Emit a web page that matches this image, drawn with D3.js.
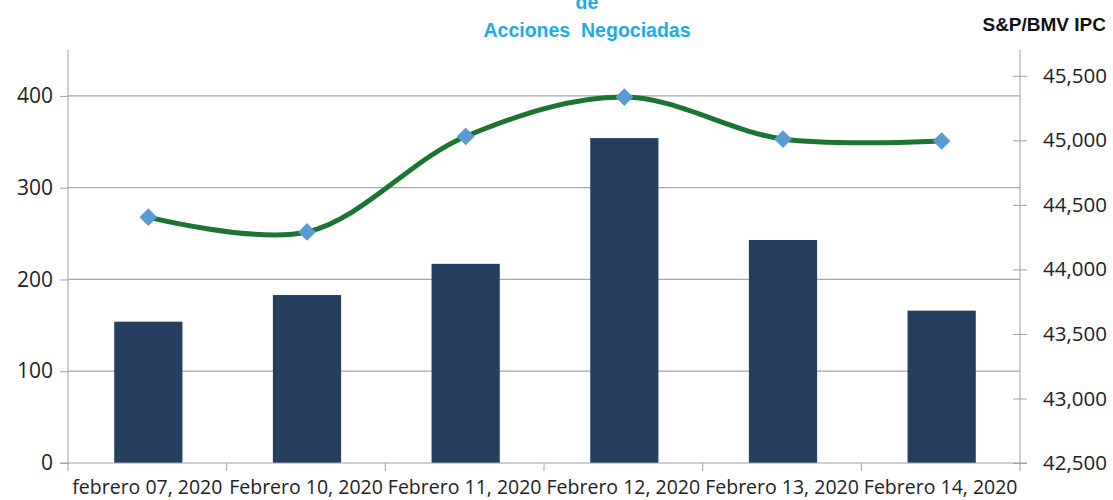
<!DOCTYPE html>
<html>
<head>
<meta charset="utf-8">
<script src="https://cdn.jsdelivr.net/npm/d3@7"></script>
<style>
  body { margin: 0; background: #fff; }
  svg text { font-family: "Open Sans", "DejaVu Sans", sans-serif; }
</style>
</head>
<body>
<div id="chart"></div>
<script>

var categories = ["febrero 07, 2020", "Febrero 10, 2020", "Febrero 11, 2020",
                  "Febrero 12, 2020", "Febrero 13, 2020", "Febrero 14, 2020"];
var acciones = [154, 183, 217, 354, 243, 166];
var ipc = [44405, 44290, 45030, 45335, 45010, 44995];
var leftTicks = [0, 100, 200, 300, 400];
var rightTicks = [42500, 43000, 43500, 44000, 44500, 45000, 45500];

var width = 1113, height = 500;
var margin = {left: 68, right: 93, top: 50, bottom: 37};

var svg = d3.select("#chart").append("svg")
    .attr("width", width)
    .attr("height", height);

var x = d3.scaleBand()
    .domain(categories)
    .range([margin.left, width - margin.right])
    .paddingInner(0.57)
    .paddingOuter(0.285);

var yL = d3.scaleLinear().domain([0, 450]).range([height - margin.bottom, margin.top]);
var yR = d3.scaleLinear().domain([42500, 45700]).range([height - margin.bottom, margin.top]);

// grid lines
svg.append("g").selectAll("line")
    .data(leftTicks.slice(1))
    .enter().append("line")
    .attr("x1", margin.left).attr("x2", width - margin.right)
    .attr("y1", function(d){ return yL(d); })
    .attr("y2", function(d){ return yL(d); })
    .attr("stroke", "#a6a6a6").attr("stroke-width", 1.2);

// bars
svg.append("g").selectAll("rect")
    .data(acciones)
    .enter().append("rect")
    .attr("x", function(d, i){ return x(categories[i]) + 1; })
    .attr("width", x.bandwidth())
    .attr("y", function(d){ return yL(d); })
    .attr("height", function(d){ return yL(0) - yL(d); })
    .attr("fill", "#243f60");

// left axis
var gl = svg.append("g").attr("transform", "translate(" + margin.left + ",0)")
    .call(d3.axisLeft(yL).tickValues(leftTicks).tickSize(8).tickPadding(7));
gl.select(".domain").attr("stroke", "#a0a0a0").attr("d", "M0," + margin.top + "V" + yL(0));
gl.selectAll(".tick line").attr("stroke", "#a0a0a0");
gl.selectAll("text").attr("font-size", "21px").attr("fill", "#222");

// right axis
var gr = svg.append("g").attr("transform", "translate(" + (width - margin.right) + ",0)")
    .call(d3.axisRight(yR).tickValues(rightTicks).tickSize(7).tickPadding(16)
        .tickFormat(d3.format(",")));
gr.select(".domain").attr("stroke", "#a0a0a0").attr("d", "M0," + margin.top + "V" + yR(42500));
gr.selectAll(".tick line").attr("stroke", "#a0a0a0").attr("x1", -7);
gr.selectAll("text").attr("font-size", "20.5px").attr("fill", "#222");

// bottom axis
var gb = svg.append("g").attr("transform", "translate(0," + yL(0) + ")")
    .call(d3.axisBottom(x).tickSize(0).tickPadding(17));
gb.select(".domain").attr("stroke", "#a0a0a0").attr("d", "M" + (margin.left - 8) + ",0H" + (width - margin.right + 7));
gb.selectAll("text").attr("font-size", "19.5px").attr("fill", "#222");
var bounds = categories.map(function(c){ return x(c) - x.step() * x.paddingInner() / 2; });
bounds.push(width - margin.right);
gb.selectAll(".bound").data(bounds).enter().append("line")
    .attr("x1", function(d){ return d; }).attr("x2", function(d){ return d; })
    .attr("y1", 0).attr("y2", 8)
    .attr("stroke", "#a0a0a0");

// ipc line
var cx = function(i){ return x(categories[i]) + x.bandwidth() / 2 + 1; };
var line = d3.line()
    .x(function(d, i){ return cx(i); })
    .y(function(d){ return yR(d); })
    .curve(d3.curveCatmullRom.alpha(0.5));

svg.append("path")
    .datum(ipc)
    .attr("d", line)
    .attr("fill", "none")
    .attr("stroke", "#1b7431")
    .attr("stroke-width", 5);

svg.append("g").selectAll("path")
    .data(ipc)
    .enter().append("path")
    .attr("d", d3.symbol().type(d3.symbolDiamond2).size(200))
    .attr("transform", function(d, i){ return "translate(" + cx(i) + "," + yR(d) + ")"; })
    .attr("fill", "#5b9bd5");

// titles
var title = svg.append("g")
    .attr("font-weight", "bold").attr("fill", "#1aacea").attr("text-anchor", "middle");
title.append("text").attr("x", 587).attr("y", 9).attr("font-size", "19.5px")
    .style("font-family", "Liberation Sans, Arial, sans-serif").text("de");
title.append("text").attr("x", 587).attr("y", 37).attr("font-size", "19.5px")
    .style("font-family", "Liberation Sans, Arial, sans-serif")
    .style("white-space", "pre").text("Acciones  Negociadas");

svg.append("text").attr("x", 1106).attr("y", 31)
    .attr("text-anchor", "end").attr("font-weight", "bold").attr("font-size", "19px")
    .style("font-family", "Liberation Sans, Arial, sans-serif")
    .attr("fill", "#111").text("S&P/BMV IPC");

</script>
</body>
</html>
